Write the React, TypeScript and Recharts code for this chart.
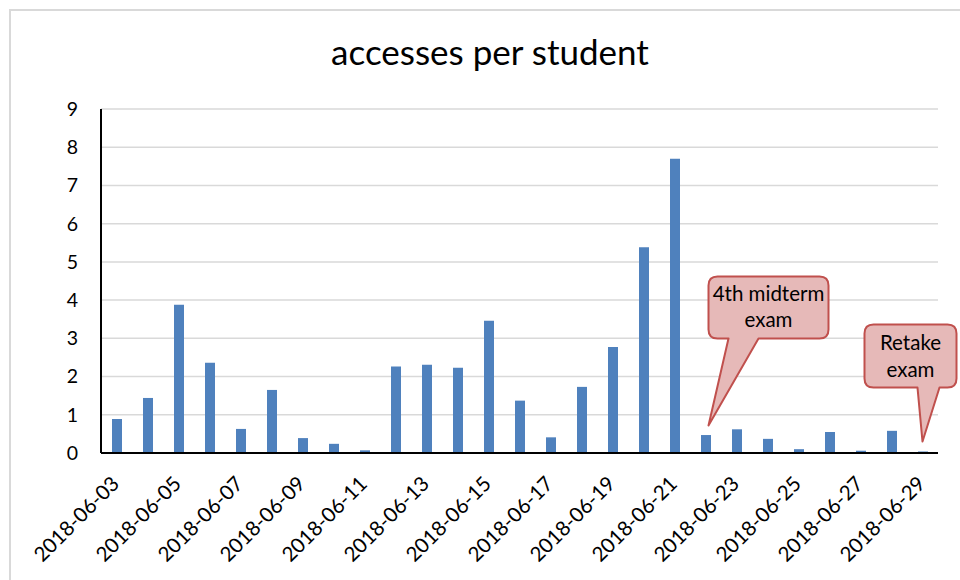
import React from 'react';
import { BarChart, Bar, XAxis, YAxis, CartesianGrid, ReferenceDot, Customized } from 'recharts';

// Daily accesses per student, June 2018
const dates = [
  '2018-06-03', '2018-06-04', '2018-06-05', '2018-06-06', '2018-06-07', '2018-06-08', '2018-06-09',
  '2018-06-10', '2018-06-11', '2018-06-12', '2018-06-13', '2018-06-14', '2018-06-15', '2018-06-16',
  '2018-06-17', '2018-06-18', '2018-06-19', '2018-06-20', '2018-06-21', '2018-06-22', '2018-06-23',
  '2018-06-24', '2018-06-25', '2018-06-26', '2018-06-27', '2018-06-28', '2018-06-29',
];
const accesses = [
  0.89, 1.44, 3.88, 2.36, 0.63, 1.65, 0.39,
  0.24, 0.07, 2.26, 2.31, 2.23, 3.46, 1.37,
  0.41, 1.73, 2.77, 5.38, 7.70, 0.47, 0.62,
  0.37, 0.10, 0.55, 0.06, 0.58, 0.04,
];
const yTicks = [0, 1, 2, 3, 4, 5, 6, 7, 8, 9];
const chartTitle = 'accesses per student';

// Exam annotations: which day they point at, how high the pointer ends, and their text
const examDates = ['2018-06-22', '2018-06-29'];
const examPointerLevels = [0.72, 0.3];
const examLabels = [['4th midterm', 'exam'], ['Retake', 'exam']];

const data = dates.map((d, i) => ({ date: d, value: accesses[i] }));

const FONT = 'Lato, "Open Sans", sans-serif';
const BAR_COLOR = '#4F81BD';

// Callout geometry, relative to the pointer tip
const calloutLayouts = [
  { tipDx: 3, x1: 0, x2: 120, y1: -149, y2: -87, t1: 20, t2: 50, tx: 60, ty: [-124, -98] },
  { tipDx: 0, x1: -58, x2: 34, y1: -117, y2: -54, t1: -5, t2: 17, tx: -12, ty: [-92, -65] },
];

function makeCallout(idx: number) {
  const L = calloutLayouts[idx];
  const lines = examLabels[idx];
  return (props: any) => {
    const { cx, cy } = props;
    if (cx == null || cy == null) return <g />;
    const px = cx + L.tipDx;
    const py = cy;
    const x1 = px + L.x1, x2 = px + L.x2, y1 = py + L.y1, y2 = py + L.y2;
    const r = 9;
    const d = [
      `M ${x1 + r} ${y1}`,
      `L ${x2 - r} ${y1}`,
      `Q ${x2} ${y1} ${x2} ${y1 + r}`,
      `L ${x2} ${y2 - r}`,
      `Q ${x2} ${y2} ${x2 - r} ${y2}`,
      `L ${px + L.t2} ${y2}`,
      `L ${px} ${py}`,
      `L ${px + L.t1} ${y2}`,
      `L ${x1 + r} ${y2}`,
      `Q ${x1} ${y2} ${x1} ${y2 - r}`,
      `L ${x1} ${y1 + r}`,
      `Q ${x1} ${y1} ${x1 + r} ${y1}`,
      'Z',
    ].join(' ');
    return (
      <g>
        <path d={d} fill="#E6B9B8" stroke="#C0504D" strokeWidth={2} strokeLinejoin="round" />
        {lines.map((t, i) => (
          <text
            key={t}
            x={px + L.tx}
            y={py + L.ty[i]}
            textAnchor="middle"
            fontFamily={FONT}
            fontSize={20.5}
            fill="#000"
          >
            {t}
          </text>
        ))}
      </g>
    );
  };
}

const DateTick = (props: any) => {
  const { x, y, payload } = props;
  return (
    <g transform={`translate(${x + 4},${y + 32})`}>
      <text x={0} y={0} textAnchor="end" transform="rotate(-45)" fontFamily={FONT} fontSize={20.5} fill="#000">
        {payload.value}
      </text>
    </g>
  );
};

const Title = () => (
  <text x={490} y={65} textAnchor="middle" fontFamily={FONT} fontSize={35} fill="#000">
    {chartTitle}
  </text>
);

export default function App() {
  return (
    <div
      style={{
        position: 'absolute',
        left: 0,
        top: 0,
        width: 960,
        height: 580,
        overflow: 'hidden',
        background: '#fff',
      }}
    >
      <div
        style={{
          position: 'absolute',
          left: 9,
          top: 9,
          width: 980,
          height: 600,
          border: '2px solid #d9d9d9',
        }}
      />
      <div style={{ position: 'absolute', left: 0, top: 0 }}>
        <BarChart width={960} height={580} data={data} margin={{ top: 109, right: 22, bottom: 7, left: 41 }}>
          <CartesianGrid vertical={false} stroke="#d9d9d9" strokeWidth={1.5} />
          <XAxis
            dataKey="date"
            interval={1}
            height={120}
            tickLine={false}
            tickSize={0}
            tickMargin={0}
            axisLine={{ stroke: '#000', strokeWidth: 2 }}
            tick={<DateTick />}
          />
          <YAxis
            width={60}
            domain={[0, 9]}
            ticks={yTicks}
            tickLine={false}
            tickSize={0}
            tickMargin={23}
            axisLine={{ stroke: '#000', strokeWidth: 2 }}
            tick={{ fontFamily: FONT, fontSize: 19.5, fill: '#000' }}
          />
          <Bar dataKey="value" fill={BAR_COLOR} barSize={10} isAnimationActive={false} />
          {examDates.map((d, i) => (
            <ReferenceDot key={d} x={d} y={examPointerLevels[i]} shape={makeCallout(i)} />
          ))}
          <Customized component={Title} />
        </BarChart>
      </div>
    </div>
  );
}
